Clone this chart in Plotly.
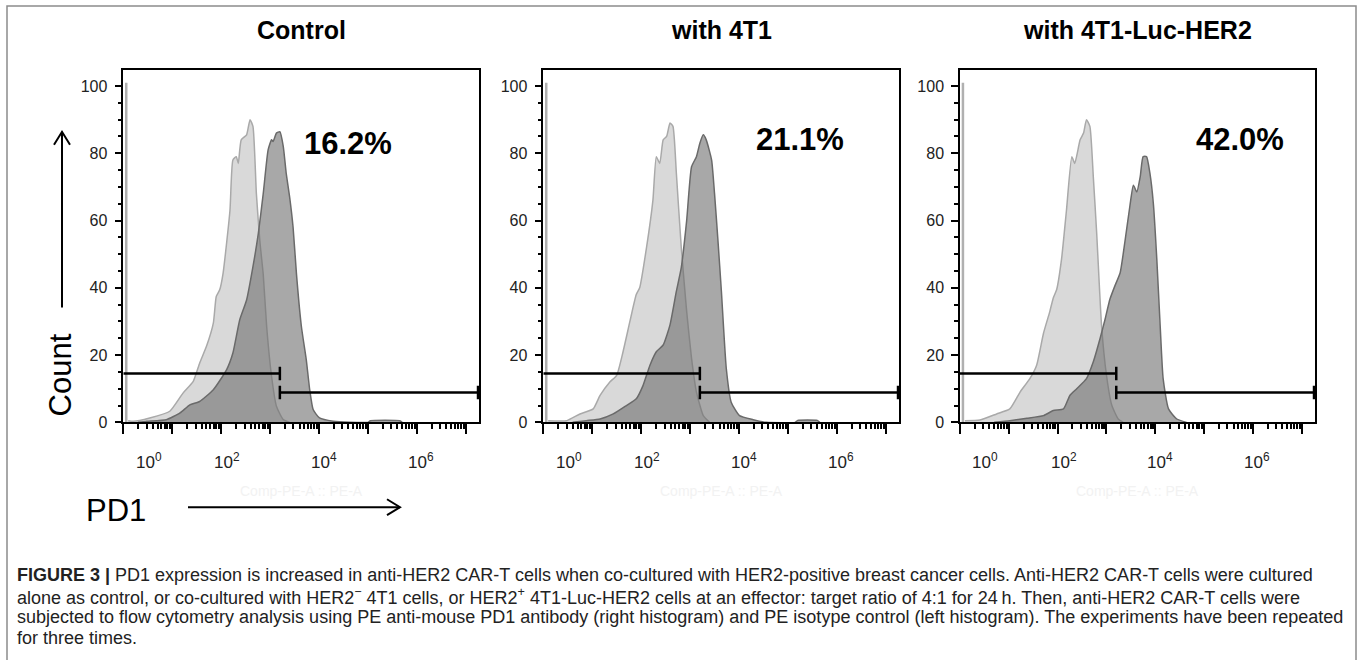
import plotly.graph_objects as go

# ---------------- data (x in log10 PE intensity, y = count) ----------------
panel_titles = ["Control", "with 4T1", "with 4T1-Luc-HER2"]
percent_labels = ["16.2%", "21.1%", "42.0%"]

ctrl_iso_log = [0.10, 0.20, 0.54, 0.95, 1.22, 1.43, 1.56, 1.70, 1.84, 1.90, 1.97, 2.04, 2.18, 2.24, 2.31,
                2.35, 2.41, 2.52, 2.59, 2.65, 2.72, 2.79, 2.86, 2.93, 3.03, 3.13, 3.27, 3.40]
ctrl_iso_cnt = [0.5, 0.3, 1.3, 3.3, 8.7, 12.2, 17.6, 22.6, 29.5, 37.4, 39.4, 44.4, 63, 78, 79,
                77, 84, 85.5, 90, 88, 68, 54, 44, 28.5, 13.7, 4.8, 0.8, 0]
ctrl_pd1_log = [0.30, 0.48, 0.88, 1.16, 1.36, 1.56, 1.84, 2.11, 2.24, 2.38, 2.52, 2.65, 2.76, 2.86, 2.96,
                3.03, 3.06, 3.13, 3.20, 3.27, 3.33, 3.40, 3.47, 3.54, 3.64, 3.74, 3.81, 3.88, 4.01,
                4.29, 4.63, 5.00, 5.05, 5.65, 5.70]
ctrl_pd1_cnt = [0, 0.3, 0.8, 2.8, 5.2, 6.2, 9.7, 15.6, 20.6, 30.5, 36.4, 46.3, 56.2, 68, 81,
                84, 83.5, 86, 86.4, 82, 74, 67, 58, 44, 28.5, 18.6, 9.7, 3.8, 1.3,
                0.3, 0, 0, 0.5, 0.5, 0]

t4t1_iso_log = [0.10, 0.48, 0.75, 1.02, 1.16, 1.36, 1.50, 1.63, 1.77, 1.90, 1.97, 2.11, 2.24, 2.31, 2.38,
                2.45, 2.52, 2.59, 2.65, 2.72, 2.82, 2.93, 3.03, 3.13, 3.27, 3.40]
t4t1_iso_cnt = [0.5, 0.5, 2.5, 4, 8, 12, 14, 21, 30, 38, 40, 52, 66, 79, 77,
                84, 85, 89, 88, 74, 52, 33, 19, 9, 2, 0]
t4t1_pd1_log = [0.60, 0.88, 1.16, 1.43, 1.70, 1.90, 2.04, 2.18, 2.31, 2.45, 2.59, 2.72, 2.82, 2.93, 3.03,
                3.13, 3.20, 3.27, 3.33, 3.44, 3.50, 3.57, 3.64, 3.74, 3.84, 4.01, 4.29, 4.56,
                5.15, 5.20, 5.60, 5.65]
t4t1_pd1_cnt = [0, 0.5, 1, 2.5, 5, 7, 11, 17, 21, 23, 29, 39, 46, 60, 76,
                79, 83, 85.5, 84, 78, 68, 54, 39, 16, 6, 2, 0.8, 0,
                0, 0.6, 0.6, 0]

her2_iso_log = [0.10, 0.41, 0.75, 1.02, 1.23, 1.43, 1.57, 1.71, 1.84, 1.91, 1.98, 2.08, 2.18, 2.29, 2.35,
                2.46, 2.53, 2.59, 2.66, 2.73, 2.80, 2.90, 3.00, 3.11, 3.24, 3.34]
her2_iso_cnt = [0.5, 0.7, 2.5, 4, 9, 13, 17, 26.5, 33, 37, 39.5, 48.6, 63, 79, 77,
                84, 86, 90, 88, 73, 56, 28.5, 14, 5, 1, 0]
her2_pd1_log = [0.70, 1.02, 1.37, 1.71, 1.91, 2.12, 2.25, 2.39, 2.59, 2.73, 2.87, 2.97, 3.07, 3.17, 3.28,
                3.38, 3.48, 3.55, 3.62, 3.69, 3.75, 3.82, 3.89, 3.96, 4.03, 4.10, 4.16, 4.27, 4.44, 4.64]
her2_pd1_cnt = [0, 0.5, 1.2, 2, 3.5, 4, 8, 10, 13, 18, 25, 30.6, 36.6, 40.5, 44.5,
                54, 64.4, 70.5, 68.5, 73, 79, 79, 74, 65, 48.6, 28.5, 13, 4, 1, 0]

iso_logs = [ctrl_iso_log, t4t1_iso_log, her2_iso_log]
iso_cnts = [ctrl_iso_cnt, t4t1_iso_cnt, her2_iso_cnt]
pd1_logs = [ctrl_pd1_log, t4t1_pd1_log, her2_pd1_log]
pd1_cnts = [ctrl_pd1_cnt, t4t1_pd1_cnt, her2_pd1_cnt]

# off-scale pile-up at the lowest channel
spike_log = 0.06
spike_cnt = 101

# gates (log10 positions / count levels)
gate_split_log = 3.2
gate_end_log = 7.25
gate_left_level = 14.5
gate_right_level = 8.9

x_tick_labels = ["10<sup>0</sup>", "10<sup>2</sup>", "10<sup>4</sup>", "10<sup>6</sup>"]
x_tick_label_pos = [0.52, 2.12, 4.10, 6.09]

caption_lines = [
    "<b>FIGURE 3 |</b> PD1 expression is increased in anti-HER2 CAR-T cells when co-cultured with HER2-positive breast cancer cells. Anti-HER2 CAR-T cells were cultured",
    "alone as control, or co-cultured with HER2<sup>−</sup> 4T1 cells, or HER2<sup>+</sup> 4T1-Luc-HER2 cells at an effector: target ratio of 4:1 for 24\u2009h. Then, anti-HER2 CAR-T cells were",
    "subjected to flow cytometry analysis using PE anti-mouse PD1 antibody (right histogram) and PE isotype control (left histogram). The experiments have been repeated",
    "for three times.",
]

# ---------------- layout helpers ----------------
W, H = 1358, 660
H_EFF = 652          # measured vertical extent of the photographed page
def px(p):
    return p / W
def py(p):
    return 1 - p / H_EFF

panel_left = [123.3, 543.3, 960.0]
panel_right = [479.0, 899.0, 1315.0]
box_top, box_bot = 70, 423
percent_pos = [(4.6, 83), (5.24, 84), (5.73, 84)]

FONT = "Liberation Sans, Arial, sans-serif"
CAP_FONT = "Liberation Sans, Arial, sans-serif"
fig = go.Figure()

for i in range(3):
    sfx = "" if i == 0 else str(i + 1)
    xa, ya = "x" + sfx, "y" + sfx
    # isotype (light) histogram
    fig.add_trace(go.Scatter(
        x=[10 ** v for v in iso_logs[i]], y=iso_cnts[i], xaxis=xa, yaxis=ya,
        mode="lines", line=dict(color="#a9a9a9", width=1.5, shape="spline", smoothing=0.5),
        fill="tozeroy", fillcolor="rgba(190,190,190,0.58)", showlegend=False, hoverinfo="skip"))
    # PD1 (dark) histogram
    fig.add_trace(go.Scatter(
        x=[10 ** v for v in pd1_logs[i]], y=pd1_cnts[i], xaxis=xa, yaxis=ya,
        mode="lines", line=dict(color="#6a6a6a", width=1.5, shape="spline", smoothing=0.5),
        fill="tozeroy", fillcolor="rgba(110,110,110,0.6)", showlegend=False, hoverinfo="skip"))
    # spike at lowest channel
    fig.add_trace(go.Scatter(
        x=[10 ** spike_log, 10 ** spike_log], y=[0, spike_cnt], xaxis=xa, yaxis=ya,
        mode="lines", line=dict(color="#b0b0b0", width=2.5), showlegend=False, hoverinfo="skip"))
    # gate bars
    gs, ge = 10 ** gate_split_log, 10 ** gate_end_log
    gate_style = dict(color="black", width=2.5)
    fig.add_trace(go.Scatter(x=[1, gs, None, gs, gs], y=[gate_left_level, gate_left_level, None,
                                                          gate_left_level - 2, gate_left_level + 2],
                             xaxis=xa, yaxis=ya, mode="lines", line=gate_style,
                             showlegend=False, hoverinfo="skip"))
    fig.add_trace(go.Scatter(x=[gs, ge, None, gs, gs, None, ge, ge],
                             y=[gate_right_level, gate_right_level, None,
                                gate_right_level - 2, gate_right_level + 2, None,
                                gate_right_level - 2, gate_right_level + 2],
                             xaxis=xa, yaxis=ya, mode="lines", line=gate_style,
                             showlegend=False, hoverinfo="skip"))

layout = dict(
    width=W, height=H, autosize=False,
    margin=dict(l=0, r=0, t=0, b=0),
    paper_bgcolor="white", plot_bgcolor="white",
    showlegend=False,
    font=dict(family=FONT, color="#1a1a1a"),
)
minor_x = [m * 10 ** k for k in range(8) for m in range(2, 10)]
for i in range(3):
    sfx = "" if i == 0 else str(i + 1)
    layout["xaxis" + sfx] = dict(
        domain=[px(panel_left[i]), px(panel_right[i])], anchor="y" + sfx,
        type="log", range=[0, 7.27], showgrid=False, zeroline=False,
        showline=True, linecolor="black", linewidth=1.5, mirror=True,
        tickvals=[10 ** k for k in range(8)], ticks="outside", ticklen=10, tickwidth=2,
        tickcolor="black", showticklabels=False,
        minor=dict(tickvals=minor_x, ticks="outside", ticklen=5, tickwidth=1.5, tickcolor="black"),
    )
    layout["yaxis" + sfx] = dict(
        domain=[py(box_bot), py(box_top)], anchor="x" + sfx,
        range=[0, 104.8], showgrid=False, zeroline=False,
        showline=True, linecolor="black", linewidth=1.5, mirror=True,
        tickvals=[0, 20, 40, 60, 80, 100], ticks="outside", ticklen=7, tickwidth=2,
        tickcolor="black", tickfont=dict(size=16, color="#222"), ticklabelstandoff=4,
        minor=dict(dtick=5, ticks="outside", ticklen=4, tickwidth=1.5, tickcolor="black"),
    )
fig.update_layout(**layout)

ann = []
for i in range(3):
    sfx = "" if i == 0 else str(i + 1)
    cx = (panel_left[i] + panel_right[i]) / 2
    ann.append(dict(text="<b>" + panel_titles[i] + "</b>", xref="paper", yref="paper",
                    x=px(cx), y=py(30), xanchor="center", yanchor="middle", showarrow=False,
                    font=dict(size=25, color="black", family=FONT)))
    ann.append(dict(text="<b>" + percent_labels[i] + "</b>", xref="x" + sfx, yref="y" + sfx,
                    x=percent_pos[i][0], y=percent_pos[i][1], xanchor="center", yanchor="middle",
                    showarrow=False, font=dict(size=31, color="black", family=FONT)))
    for t, p in zip(x_tick_labels, x_tick_label_pos):
        ann.append(dict(text=t, xref="x" + sfx, yref="paper", x=p, y=py(462),
                        xanchor="center", yanchor="middle", showarrow=False,
                        font=dict(size=17, color="#222", family=FONT)))
    ann.append(dict(text="Comp-PE-A :: PE-A", xref="paper", yref="paper", x=px(cx), y=py(492),
                    xanchor="center", yanchor="middle", showarrow=False,
                    font=dict(size=14, color="#f2f2f2", family=FONT)))

ann.append(dict(text="Count", xref="paper", yref="paper", x=px(60), y=py(376), textangle=-90,
                xanchor="center", yanchor="middle", showarrow=False,
                font=dict(size=31, color="black", family=FONT)))
ann.append(dict(text="PD1", xref="paper", yref="paper", x=px(116), y=py(511),
                xanchor="center", yanchor="middle", showarrow=False,
                font=dict(size=31, color="black", family=FONT)))

cap_y = [576, 597, 618, 639]
for line, yy in zip(caption_lines, cap_y):
    ann.append(dict(text=line, xref="paper", yref="paper", x=px(15), y=py(yy),
                    xanchor="left", yanchor="middle", showarrow=False,
                    font=dict(size=18, color="#222", family=CAP_FONT)))
fig.update_layout(annotations=ann)

shapes = []
# outer frame
shapes.append(dict(type="rect", xref="paper", yref="paper", x0=px(7), x1=px(1356), y0=py(680), y1=py(6),
                   line=dict(color="#8c8c8c", width=1.5)))
# Count arrow (vertical)
shapes.append(dict(type="path", xref="paper", yref="paper",
                   path=f"M {px(62)},{py(308)} L {px(62)},{py(132)}", line=dict(color="black", width=2)))
shapes.append(dict(type="path", xref="paper", yref="paper",
                   path=f"M {px(54)},{py(145)} L {px(62)},{py(132)} L {px(70)},{py(145)}",
                   line=dict(color="black", width=2)))
# PD1 arrow (horizontal)
shapes.append(dict(type="path", xref="paper", yref="paper",
                   path=f"M {px(188)},{py(508)} L {px(400)},{py(508)}", line=dict(color="black", width=2)))
shapes.append(dict(type="path", xref="paper", yref="paper",
                   path=f"M {px(387)},{py(500)} L {px(400)},{py(508)} L {px(387)},{py(516)}",
                   line=dict(color="black", width=2)))
fig.update_layout(shapes=shapes)

post = ("document.documentElement.style.margin='0';document.documentElement.style.padding='0';"
        "document.documentElement.style.overflow='hidden';"
        "document.body.style.margin='0';document.body.style.padding='0';"
        "document.body.style.overflow='hidden';document.body.style.height='660px';"
        "var d=document.getElementById('{plot_id}');"
        "d.style.position='absolute';d.style.top='0px';d.style.left='0px';")
fig.write_html("out.html", config={"displayModeBar": False}, post_script=post)
